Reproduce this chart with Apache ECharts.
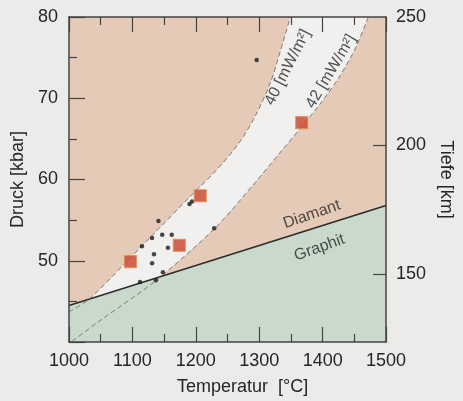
<!DOCTYPE html>
<html>
<head>
<meta charset="utf-8">
<script src="https://cdn.jsdelivr.net/npm/echarts@6/dist/echarts.min.js"></script>
<style>
  html, body { margin: 0; padding: 0; background: #ebebe9; }
  #chart { width: 463px; height: 401px; }
</style>
</head>
<body>
<div id="chart"></div>
<script>
// geotherm 40 mW/m2: [Temperatur °C, Druck kbar]
var geotherm40 = [[1000, 43.7], [1032, 45.3], [1091, 49.9], [1136, 53.5], [1191, 57.9], [1233, 61.2],
                  [1269, 64.6], [1295, 68.0], [1318, 72.0], [1334, 76.0], [1349, 80]];
// geotherm 42 mW/m2
var geotherm42 = [[1005, 40.1], [1052, 42.8], [1136, 47.5], [1230, 54.0], [1290, 59.3], [1336, 63.6],
                  [1367, 66.5], [1398, 69.5], [1426, 72.6], [1452, 76.2], [1472, 80]];
// graphit / diamant boundary
var graphitDiamant = [[1000, 44.5], [1500, 56.8]];
// small black points
var dots = [[1296, 74.7], [1190, 57.0], [1194, 57.3], [1141, 54.9], [1131, 52.8], [1147, 53.2],
            [1162, 53.2], [1115, 51.8], [1156, 51.6], [1134, 50.8], [1131, 49.7], [1148, 48.6],
            [1112, 47.4], [1137, 47.6], [1229, 54.0]];
// red squares
var squares = [[1097, 49.9], [1174, 51.9], [1207, 58.0], [1367, 67.0]];
// axis ticks
var depthTicks = [150, 200];
var depthLabels = [150, 200, 250];

var salmon = '#e5cab7';
var green = '#c9dacd';
var white = '#f1f0ee';
var ink = '#262626';
var font = 'Liberation Sans';

var chart = echarts.init(document.getElementById('chart'));

var axisLine = { show: true, lineStyle: { color: '#444', width: 1.5 } };
var tickStyle = { color: '#444', width: 1.2 };

// text along the curves, placed in data coordinates
var notes = [
  { value: [1345, 73.8], text: '40 [mW/m²]', rotate: 63 },
  { value: [1413, 73.3], text: '42 [mW/m²]', rotate: 59 },
  { value: [1383, 55.7], text: 'Diamant', rotate: 19 },
  { value: [1395, 51.6], text: 'Graphit', rotate: 20 }
];

// area fill of a curve, towards the bottom ('start') or top ('end') of the plot
function fill(data, color, origin, z) {
  return {
    type: 'line', data: data, smooth: 0.3, showSymbol: false, z: z, silent: true,
    lineStyle: { width: 0 },
    areaStyle: { color: color, opacity: 1, origin: origin }
  };
}

function dashed(data) {
  return {
    type: 'line', data: data, smooth: 0.3, showSymbol: false, z: 4, silent: true,
    lineStyle: { color: '#7a7a7a', width: 1, type: [5, 3] }
  };
}

var options = {
  animation: false,
  backgroundColor: '#ebebe9',
  grid: { left: 69, right: 70, top: 17, bottom: 58, show: true, backgroundColor: salmon, borderWidth: 0 },
  xAxis: [
    {
      type: 'value', min: 1000, max: 1500, interval: 100, z: 10,
      axisLine: axisLine,
      axisTick: { inside: true, length: 15, lineStyle: tickStyle },
      minorTick: { show: true, splitNumber: 2, length: 8, lineStyle: tickStyle },
      splitLine: { show: false },
      axisLabel: { fontSize: 18, color: ink, margin: 10, fontFamily: font, formatter: function (v) { return String(v); } },
      name: 'Temperatur  [°C]', nameLocation: 'middle', nameGap: 36,
      nameTextStyle: { fontSize: 18, color: ink, fontFamily: font, padding: [0, 0, 0, 30] }
    },
    {
      type: 'value', position: 'top', min: 1000, max: 1500, interval: 100, z: 10,
      axisLine: axisLine,
      axisTick: { inside: true, length: 15, lineStyle: tickStyle },
      minorTick: { show: true, splitNumber: 2, length: 8, lineStyle: tickStyle },
      splitLine: { show: false },
      axisLabel: { show: false }
    }
  ],
  yAxis: [
    {
      type: 'value', min: 40, max: 80, interval: 10, z: 10,
      axisLine: axisLine,
      axisTick: { inside: true, length: 16, lineStyle: tickStyle },
      minorTick: { show: true, splitNumber: 2, length: 8, lineStyle: tickStyle },
      splitLine: { show: false },
      axisLabel: {
        fontSize: 18, color: ink, margin: 11, fontFamily: font,
        formatter: function (v) { return v === 40 ? '' : String(v); }
      },
      name: 'Druck [kbar]', nameLocation: 'middle', nameGap: 37, nameRotate: 90,
      nameTextStyle: { fontSize: 18, color: ink, fontFamily: font }
    },
    {
      type: 'value', position: 'right', min: 123.5, max: 250, z: 10,
      axisLine: axisLine,
      axisTick: { inside: true, length: 13, customValues: depthTicks, lineStyle: tickStyle },
      splitLine: { show: false },
      axisLabel: { fontSize: 18, color: ink, margin: 10, fontFamily: font, customValues: depthLabels },
      name: 'Tiefe [km]', nameLocation: 'middle', nameGap: 47, nameRotate: -90,
      nameTextStyle: { fontSize: 18, color: ink, fontFamily: font }
    }
  ],
  series: [
    // white above the 42 curve, then salmon again above the 40 curve
    fill(geotherm42, white, 'end', 1),
    fill(geotherm40, salmon, 'end', 2),
    {
      type: 'line', data: graphitDiamant, showSymbol: false, z: 3, silent: true,
      lineStyle: { color: '#2b2b2b', width: 1.5 },
      areaStyle: { color: green, opacity: 1, origin: 'start' }
    },
    dashed(geotherm40),
    dashed(geotherm42),
    {
      type: 'scatter', data: dots, symbol: 'circle', symbolSize: 4.5, z: 6,
      itemStyle: { color: '#1a1a1a' }
    },
    {
      type: 'scatter', data: squares, symbol: 'rect', symbolSize: 12, z: 7,
      itemStyle: { color: '#c9412a', borderColor: '#dd8e4c', borderWidth: 1.2 }
    },
    {
      type: 'scatter', symbolSize: 0, z: 8, silent: true,
      data: notes.map(function (n) {
        return {
          value: n.value,
          label: { show: true, position: 'inside', formatter: n.text, rotate: n.rotate }
        };
      }),
      label: { fontSize: 16, color: ink, fontFamily: font }
    }
  ]
};

chart.setOption(options);
</script>
</body>
</html>
